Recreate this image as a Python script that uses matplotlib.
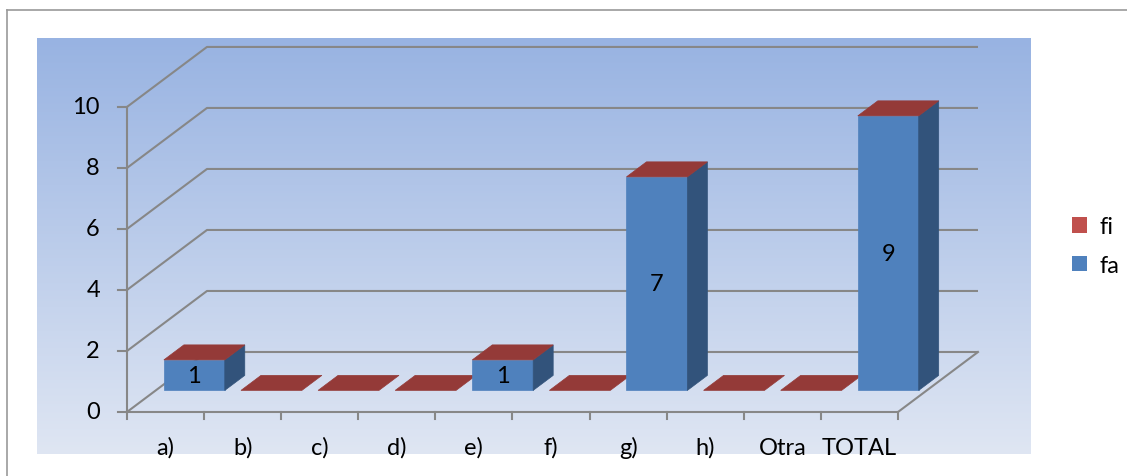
import numpy as np
import matplotlib
matplotlib.use("Agg")
import matplotlib.pyplot as plt
from matplotlib.patches import Polygon, Patch
from matplotlib.lines import Line2D
from matplotlib.colors import LinearSegmentedColormap

# ---- data ----
categories = ["a)", "b)", "c)", "d)", "e)", "f)", "g)", "h)", "Otra", "TOTAL"]
fa = [1, 0, 0, 0, 1, 0, 7, 0, 0, 9]
fi = [0, 0, 0, 0, 0, 0, 0, 0, 0, 0]
y_ticks = [0, 2, 4, 6, 8, 10]
series_names = ["fi", "fa"]

plt.rcParams["font.family"] = ["Lato", "DejaVu Sans"]
FS = 17

# ---- colours ----
FA_FRONT, FA_SIDE = "#4F81BD", "#32537B"
FI_FRONT, FI_SIDE, FI_TOP = "#C0504D", "#7E2D2B", "#943A38"
GRID = "#878787"

# ---- oblique projection of the 3-D box ----
DX, DY = 1.0376, 1.967      # full depth of the floor, in data units
D0, BD = 0.36, 0.25         # bar front depth and bar thickness (fraction of depth)
BW = 0.79                   # bar width (fraction of a category)
X0, X1 = -0.5, len(categories) - 0.5
YMAX = y_ticks[-1]


def P(x, y, d):
    return (x + d * DX, y + d * DY)


fig = plt.figure(figsize=(11.27, 4.77), dpi=100)
ax = fig.add_axes([37 / 1127, 22 / 477, 994 / 1127, 416 / 477])
xlim = (-1.667, 11.225)
ylim = (-1.377, 12.26)

# background gradient of the plot area
cmap = LinearSegmentedColormap.from_list("bg", ["#98B3E2", "#DFE6F3"])
grad = np.linspace(0, 1, 256).reshape(-1, 1)
ax.imshow(grad, cmap=cmap, extent=[xlim[0], xlim[1], ylim[0], ylim[1]],
          aspect="auto", origin="upper", zorder=0, interpolation="bicubic")
ax.set_xlim(*xlim)
ax.set_ylim(*ylim)
ax.axis("off")

lw = 1.5
# gridlines on side wall and back wall
for v in y_ticks:
    ax.plot([X0, X0 + DX, X1 + DX], [v, v + DY, v + DY], color=GRID, lw=lw,
            zorder=1, solid_capstyle="butt")
# floor edges and vertical axis
ax.plot([X0, X1, X1 + DX], [0, 0, DY], color=GRID, lw=lw, zorder=1)
ax.plot([X0, X0], [0, YMAX], color=GRID, lw=lw, zorder=1)
# tick marks and tick labels
for v in y_ticks:
    ax.plot([X0 - 0.117, X0], [v, v], color=GRID, lw=lw, zorder=1)
    ax.text(X0 - 0.35, v, str(v), ha="right", va="center", fontsize=FS, color="black")
for k in range(len(categories) + 1):
    ax.plot([X0 + k, X0 + k], [0, -0.23], color=GRID, lw=lw, zorder=1)
for i, c in enumerate(categories):
    ax.text(i, -1.15, c, ha="center", va="center", fontsize=FS, color="black")

# stacked 3-D bars
z = 3
for i in range(len(categories)):
    xl, xr = i - BW / 2, i + BW / 2
    segs = [(0, fa[i], FA_FRONT, FA_SIDE), (fa[i], fa[i] + fi[i], FI_FRONT, FI_SIDE)]
    for b, t, cf, cs in segs:
        if t - b <= 0:
            continue
        front = [P(xl, b, D0), P(xr, b, D0), P(xr, t, D0), P(xl, t, D0)]
        side = [P(xr, b, D0), P(xr, b, D0 + BD), P(xr, t, D0 + BD), P(xr, t, D0)]
        ax.add_patch(Polygon(front, closed=True, facecolor=cf, edgecolor=cf, lw=0.5, zorder=z))
        ax.add_patch(Polygon(side, closed=True, facecolor=cs, edgecolor=cs, lw=0.5, zorder=z))
    top_h = fa[i] + fi[i]
    top = [P(xl, top_h, D0), P(xr, top_h, D0), P(xr, top_h, D0 + BD), P(xl, top_h, D0 + BD)]
    ax.add_patch(Polygon(top, closed=True, facecolor=FI_TOP, edgecolor=FI_TOP, lw=0.5, zorder=z))
    if fa[i] > 0:
        lx, ly = P(i, fa[i] / 2, D0)
        ax.text(lx, ly, str(fa[i]), ha="center", va="center", fontsize=FS,
                color="black", zorder=z + 1)

# legend
handles = [Patch(facecolor=FI_FRONT), Patch(facecolor=FA_FRONT)]
fig.legend(handles, series_names, loc="center left",
           bbox_to_anchor=(1072 / 1127, 1 - 247 / 477), frameon=False,
           fontsize=FS, handlelength=0.65, handleheight=0.65,
           handletextpad=0.5, labelspacing=0.75, borderpad=0, borderaxespad=0)

# outer frame of the chart area
fig.add_artist(Line2D([7 / 1127, 7 / 1127], [0, 1 - 11 / 477], transform=fig.transFigure,
                      color="#9A9A9A", lw=1.2))
fig.add_artist(Line2D([7 / 1127, 1], [1 - 11 / 477, 1 - 11 / 477], transform=fig.transFigure,
                      color="#9A9A9A", lw=1.2))

fig.savefig("out.png", dpi=100, facecolor="white")
